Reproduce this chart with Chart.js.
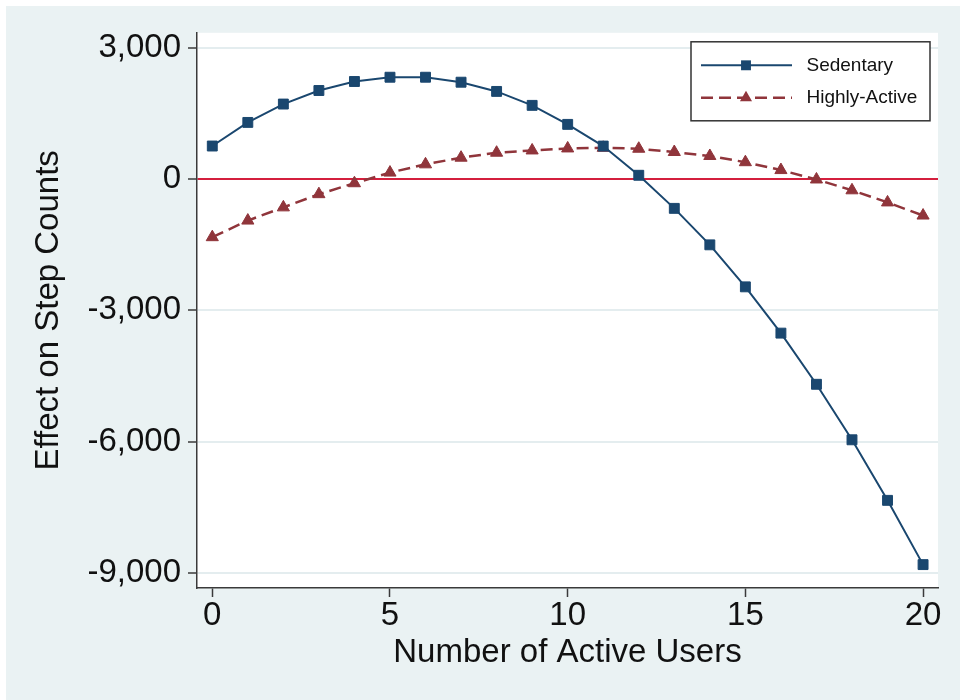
<!DOCTYPE html>
<html>
<head>
<meta charset="utf-8">
<title>Effect on Step Counts</title>
<script src="https://cdn.jsdelivr.net/npm/chart.js@4.4.1/dist/chart.umd.min.js"></script>
<style>
    html, body { margin: 0; padding: 0; background: #ffffff; }
    #wrap { position: absolute; left: 6px; top: 6px; width: 954px; height: 694px; }
</style>
</head>
<body>
<div id="wrap"><canvas id="chartStep" width="954" height="694"></canvas></div>
<script>
// Dados
const activeUsers = [0, 1, 2, 3, 4, 5, 6, 7, 8, 9, 10, 11, 12, 13, 14, 15, 16, 17, 18, 19, 20];
const sedentary = [760, 1300, 1720, 2030, 2236, 2334, 2334, 2220, 2009, 1690, 1255, 759, 91, -666, -1500, -2461, -3520, -4690, -5960, -7345, -8815];
const highlyActive = [-1325, -945, -643, -341, -91, 152, 341, 493, 607, 659, 705, 720, 698, 623, 532, 390, 210, -5, -253, -530, -830];
const xTicks = [0, 5, 10, 15, 20];
const yTicks = [3000, 0, -3000, -6000, -9000];

const FONT = '"Liberation Sans", Arial, sans-serif';
const NAVY = '#1a476f';
const MAROON = '#90353b';
const ZERO_RED = '#d41f3d';

document.addEventListener('DOMContentLoaded', () => {
    renderChart();
});

// Fundo externo e área do gráfico branca
const backgroundPlugin = {
    id: 'background',
    beforeDraw(chart) {
        const { ctx, chartArea } = chart;
        ctx.save();
        ctx.fillStyle = '#eaf2f3';
        ctx.fillRect(0, 0, chart.width, chart.height);
        ctx.fillStyle = '#ffffff';
        ctx.fillRect(chartArea.left, chartArea.top, chartArea.right - chartArea.left, chartArea.bottom - chartArea.top);
        ctx.restore();
    }
};

// Legenda estilo Stata (linha com marcador no meio)
const legendPlugin = {
    id: 'stataLegend',
    afterDraw(chart) {
        const { ctx, chartArea } = chart;
        const w = 239, h = 79;
        const left = chartArea.right - 8 - w;
        const top = chartArea.top + 9;
        ctx.save();
        ctx.fillStyle = '#ffffff';
        ctx.fillRect(left, top, w, h);
        ctx.strokeStyle = '#333333';
        ctx.lineWidth = 1.5;
        ctx.strokeRect(left, top, w, h);

        const rows = [top + 23.5, top + 56];
        chart.data.datasets.forEach((ds, i) => {
            const y = rows[i];
            ctx.strokeStyle = ds.borderColor;
            ctx.lineWidth = ds.borderWidth;
            ctx.setLineDash(ds.borderDash || []);
            ctx.beginPath();
            ctx.moveTo(left + 10, y);
            ctx.lineTo(left + 101, y);
            ctx.stroke();
            ctx.setLineDash([]);

            const mx = left + 55;
            const r = ds.pointRadius;
            ctx.fillStyle = ds.pointBackgroundColor;
            ctx.beginPath();
            if (ds.pointStyle === 'rect') {
                const s = Math.SQRT1_2 * r;
                ctx.rect(mx - s, y - s, 2 * s, 2 * s);
            } else {
                const edge = 3 * r / Math.sqrt(3);
                ctx.moveTo(mx, y - r);
                ctx.lineTo(mx + edge / 2, y + r / 2);
                ctx.lineTo(mx - edge / 2, y + r / 2);
                ctx.closePath();
            }
            ctx.fill();

            ctx.fillStyle = '#111111';
            ctx.font = '19px ' + FONT;
            ctx.textAlign = 'left';
            ctx.textBaseline = 'middle';
            ctx.fillText(ds.label, left + 115.5, y);
        });
        ctx.restore();
    }
};

function renderChart() {
    const ctx = document.getElementById('chartStep').getContext('2d');

    new Chart(ctx, {
        type: 'line',
        data: {
            datasets: [{
                label: 'Sedentary',
                data: activeUsers.map((x, i) => ({ x: x, y: sedentary[i] })),
                borderColor: NAVY,
                backgroundColor: NAVY,
                borderWidth: 2,
                tension: 0,
                pointStyle: 'rect',
                pointRadius: 7,
                pointBorderWidth: 1,
                pointBackgroundColor: NAVY,
                pointBorderColor: NAVY
            }, {
                label: 'Highly-Active',
                data: activeUsers.map((x, i) => ({ x: x, y: highlyActive[i] })),
                borderColor: MAROON,
                backgroundColor: MAROON,
                borderWidth: 2.5,
                borderDash: [12, 6],
                tension: 0,
                pointStyle: 'triangle',
                pointRadius: 7,
                pointBorderWidth: 1,
                pointBackgroundColor: MAROON,
                pointBorderColor: MAROON
            }]
        },
        options: {
            responsive: false,
            animation: false,
            devicePixelRatio: 1,
            layout: {
                padding: { top: 23, right: 22, left: 0, bottom: 0 }
            },
            plugins: {
                legend: { display: false },
                tooltip: { enabled: false }
            },
            scales: {
                x: {
                    type: 'linear',
                    min: -0.43,
                    max: 20.42,
                    afterBuildTicks: (axis) => { axis.ticks = xTicks.map(v => ({ value: v })); },
                    afterFit: (axis) => { axis.height = 112; },
                    border: { display: true, color: '#3a3a3a', width: 1.5 },
                    grid: {
                        drawOnChartArea: false,
                        drawTicks: true,
                        tickLength: 9,
                        tickColor: '#3a3a3a',
                        tickWidth: 1.5
                    },
                    ticks: {
                        color: '#111111',
                        padding: 2,
                        maxRotation: 0,
                        font: { family: FONT, size: 33, lineHeight: 1 }
                    },
                    title: {
                        display: true,
                        text: 'Number of Active Users',
                        color: '#111111',
                        padding: { top: 0, bottom: 27 },
                        font: { family: FONT, size: 33, lineHeight: 1.2 }
                    }
                },
                y: {
                    type: 'linear',
                    min: -9350,
                    max: 3350,
                    afterBuildTicks: (axis) => { axis.ticks = yTicks.map(v => ({ value: v })); },
                    afterFit: (axis) => { axis.width = 191; },
                    border: { display: true, color: '#3a3a3a', width: 1.5 },
                    grid: {
                        drawTicks: true,
                        tickLength: 9,
                        tickColor: '#3a3a3a',
                        tickWidth: 1.5,
                        color: (c) => (c.tick && c.tick.value === 0 ? ZERO_RED : '#e4edef'),
                        lineWidth: 2
                    },
                    ticks: {
                        color: '#111111',
                        padding: 7,
                        font: { family: FONT, size: 33 },
                        callback: (v) => Number(v).toLocaleString('en-US')
                    },
                    title: {
                        display: true,
                        text: 'Effect on Step Counts',
                        color: '#111111',
                        padding: { top: 23, bottom: 0 },
                        font: { family: FONT, size: 33, lineHeight: 1.2 }
                    }
                }
            }
        },
        plugins: [backgroundPlugin, legendPlugin]
    });
}
</script>
</body>
</html>
